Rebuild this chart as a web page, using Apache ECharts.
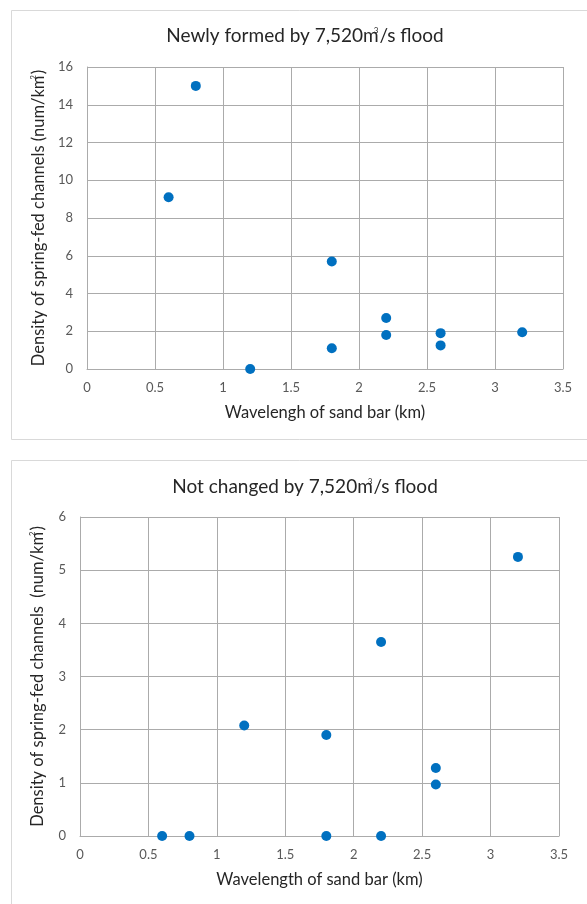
<!DOCTYPE html>
<html><head><meta charset="utf-8">
<script src="https://cdn.jsdelivr.net/npm/echarts@6/dist/echarts.min.js"></script>
<style>html,body{margin:0;padding:0;background:#fff}#c{width:587px;height:904px}</style>
</head><body><div id="c"></div>
<script>
// Chart 1: Newly formed by 7,520 m3/s flood
const newlyX = [0.6, 0.8, 1.2, 1.8, 1.8, 2.2, 2.2, 2.6, 2.6, 3.2];
const newlyY = [9.1, 15, 0, 5.7, 1.1, 2.7, 1.8, 1.9, 1.25, 1.95];
// Chart 2: Not changed by 7,520 m3/s flood
const notChangedX = [0.6, 0.8, 1.8, 2.2, 1.2, 1.8, 2.2, 2.6, 2.6, 3.2];
const notChangedY = [0, 0, 0, 0, 2.08, 1.9, 3.65, 1.28, 0.97, 5.25];
// Tick settings
const xTicks = {min: 0, max: 3.5, interval: 0.5};
const y1Ticks = {min: 0, max: 16, interval: 2};
const y2Ticks = {min: 0, max: 6, interval: 1};

const FONT = 'Lato';
const gridColor = '#ababab';
const labelColor = '#595959';
const textColor = '#262626';
const dotColor = '#0070c0';

function pairs(xs, ys){ return xs.map((x,i)=>[x, ys[i]]); }

const supRich = {
  n: {fontSize: 19, fontFamily: FONT, color: textColor, fontWeight: 'normal'},
  s: {fontSize: 8, fontFamily: FONT, color: textColor, fontWeight: 'normal', verticalAlign: 'top', padding:[0,1,12,-5]}
};
const nameRich = {
  n: {fontSize: 16.5, fontFamily: FONT, color: textColor},
  s: {fontSize: 7.5, fontFamily: FONT, color: textColor, padding:[0,1,10,-4]}
};

function xAxis(gi, name, gap){
  return {
    gridIndex: gi, type: 'value', min: xTicks.min, max: xTicks.max, interval: xTicks.interval,
    name: name, nameLocation: 'middle', nameGap: gap,
    nameTextStyle: {fontSize: 16.5, fontFamily: FONT, color: textColor},
    axisLine: {show: true, lineStyle: {color: gridColor}},
    axisTick: {show: false},
    axisLabel: {fontSize: 13, fontFamily: FONT, color: labelColor, margin: 12},
    splitLine: {show: true, lineStyle: {color: gridColor, width: 1}}
  };
}
function yAxis(gi, t, name, gap){
  return {
    gridIndex: gi, type: 'value', min: t.min, max: t.max, interval: t.interval,
    name: name, nameLocation: 'middle', nameGap: gap, nameRotate: 90,
    nameTextStyle: {rich: nameRich, fontSize: 16.5, fontFamily: FONT, color: textColor},
    axisLine: {show: true, lineStyle: {color: gridColor}},
    axisTick: {show: false},
    axisLabel: {fontSize: 13, fontFamily: FONT, color: labelColor, margin: 14},
    splitLine: {show: true, lineStyle: {color: gridColor, width: 1}}
  };
}

const chart = echarts.init(document.getElementById('c'), null, {renderer: 'canvas'});
chart.setOption({
  animation: false,
  backgroundColor: '#fff',
  graphic: [
    {type: 'rect', shape: {x: 11.5, y: 10.5, width: 590, height: 429}, style: {fill: 'none', stroke: '#d9d9d9', lineWidth: 1}, z: -1},
    {type: 'rect', shape: {x: 11.5, y: 460.5, width: 590, height: 460}, style: {fill: 'none', stroke: '#d9d9d9', lineWidth: 1}, z: -1}
  ],
  title: [
    {text: '{n|Newly formed by 7,520m}{s|3}{n|/s flood}', left: 300, top: 21, textAlign: 'center',
     textStyle: {rich: supRich}},
    {text: '{n|Not changed by 7,520m}{s|3}{n|/s flood}', left: 300, top: 472, textAlign: 'center',
     textStyle: {rich: supRich}}
  ],
  grid: [
    {left: 87, top: 67, width: 476, height: 302, containLabel: false},
    {left: 80, top: 517, width: 479, height: 319, containLabel: false}
  ],
  xAxis: [
    xAxis(0, 'Wavelengh of sand bar (km)', 35),
    xAxis(1, 'Wavelength of sand bar (km)', 35)
  ],
  yAxis: [
    yAxis(0, y1Ticks, '{n|Density of spring-fed channels (num/km}{s|2}{n|)}', 34),
    yAxis(1, y2Ticks, '{n|Density of spring-fed channels  (num/km}{s|2}{n|)}', 33)
  ],
  series: [
    {type: 'scatter', xAxisIndex: 0, yAxisIndex: 0, data: pairs(newlyX, newlyY),
     symbolSize: 10, itemStyle: {color: dotColor, opacity: 1}},
    {type: 'scatter', xAxisIndex: 1, yAxisIndex: 1, data: pairs(notChangedX, notChangedY),
     symbolSize: 10, itemStyle: {color: dotColor, opacity: 1}}
  ]
});
</script></body></html>
